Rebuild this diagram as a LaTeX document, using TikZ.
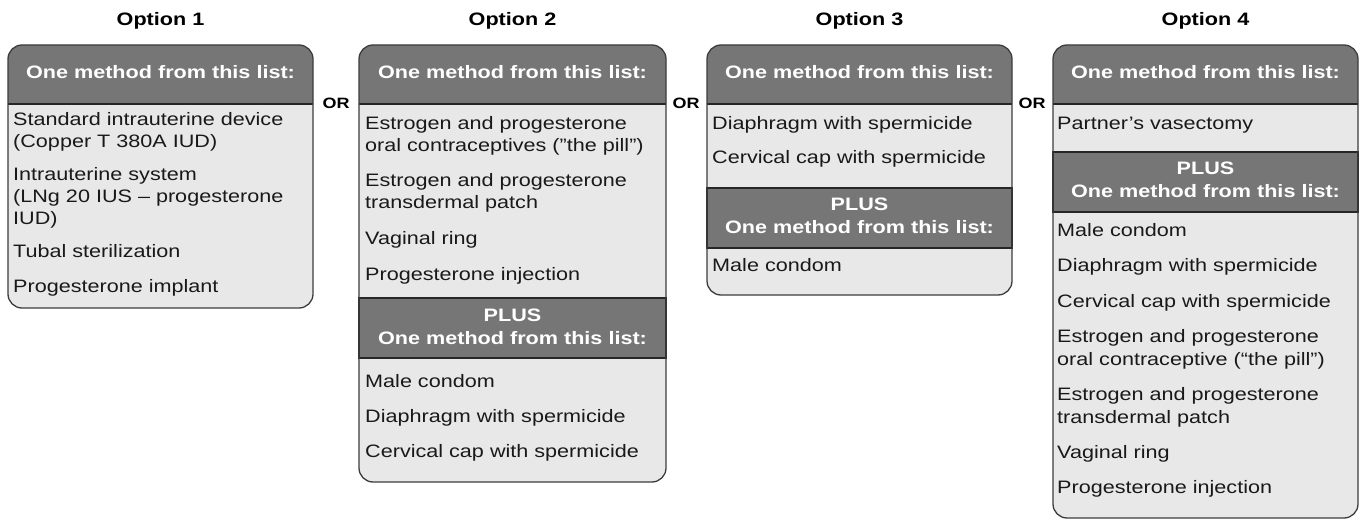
\documentclass[tikz,border=0pt]{standalone}
\usepackage{fontspec}
\setmainfont{Liberation Sans}[FakeStretch=1.2]
\definecolor{hdrgray}{RGB}{118,118,118}
\definecolor{bodygray}{RGB}{232,232,232}
\definecolor{edgegray}{RGB}{60,60,60}
\tikzset{
	item/.style={anchor=base west, inner sep=0pt, font=\fontsize{18}{22}\selectfont, text=black!90},
	hdrtext/.style={anchor=base, inner sep=0pt, font=\fontsize{18}{22}\selectfont\bfseries, text=white},
	title/.style={anchor=base, inner sep=0pt, font=\fontsize{18}{22}\selectfont\bfseries},
	ortext/.style={inner sep=0pt, font=\fontsize{15}{18}\selectfont\bfseries},
	hdrband/.style={fill=hdrgray, draw=black!85, line width=1.2pt},
	boxframe/.style={draw=edgegray, line width=1.3pt, rounded corners=14pt},
}
\begin{document}
\begin{tikzpicture}[x=1pt, y=-1pt]
	\useasboundingbox (0,0) rectangle (1362,521);
	%boxes and top headers
	\foreach \l/\r/\b/\i in {8/313/308/1, 359/666/482/2, 707/1012/295/3, 1053/1358/518/4} {
		\fill[bodygray, rounded corners=14pt] (\l,45) rectangle (\r,\b);
		\fill[hdrgray] (\l,104) [rounded corners=14pt] -- (\l,45) -- (\r,45) [sharp corners] -- (\r,104) -- cycle;
		\draw[black!85, line width=1.2pt] (\l,104) -- (\r,104);
		\node[title] (title\i) at ({(\l+\r)/2},26) {Option \i};
		\node[hdrtext] (head\i) at ({(\l+\r)/2},79) {One method from this list:};
	}
	%plus headers
	\foreach \l/\r/\hy/\i in {359/666/298/2, 707/1012/188/3, 1053/1358/152/4} {
		\draw[hdrband] (\l,\hy) rectangle (\r,\hy+60);
		\node[hdrtext] (plus\i) at ({(\l+\r)/2},\hy+23) {PLUS};
		\node[hdrtext] (plushead\i) at ({(\l+\r)/2},\hy+46) {One method from this list:};
	}
	%frames
	\foreach \l/\r/\b in {8/313/308, 359/666/482, 707/1012/295, 1053/1358/518}
	\draw[boxframe] (\l,45) rectangle (\r,\b);
	%or
	\node[ortext] (or1) at (336,103) {OR};
	\node[ortext] (or2) at (686,103) {OR};
	\node[ortext] (or3) at (1032,103) {OR};
	%option 1
	\foreach \y/\txt [count=\n] in {126/{Standard intrauterine device}, 148/{(Copper T 380A IUD)},
		181/{Intrauterine system}, 203/{(LNg 20 IUS -- progesterone}, 225/{IUD)},
		258/{Tubal sterilization}, 293/{Progesterone implant}}
	\node[item] (opt1-\n) at (13,\y) {\txt};
	%option 2
	\foreach \y/\txt [count=\n] in {130/{Estrogen and progesterone}, 152/{oral contraceptives ("the pill")},
		187/{Estrogen and progesterone}, 209/{transdermal patch}, 245/{Vaginal ring},
		280/{Progesterone injection}, 387/{Male condom}, 422/{Diaphragm with spermicide},
		457/{Cervical cap with spermicide}}
	\node[item] (opt2-\n) at (365,\y) {\txt};
	%option 3
	\foreach \y/\txt [count=\n] in {130/{Diaphragm with spermicide}, 164/{Cervical cap with spermicide},
		272/{Male condom}}
	\node[item] (opt3-\n) at (712,\y) {\txt};
	%option 4
	\foreach \y/\txt [count=\n] in {130/{Partner's vasectomy}, 237/{Male condom},
		272/{Diaphragm with spermicide}, 307/{Cervical cap with spermicide},
		342/{Estrogen and progesterone}, 365/{oral contraceptive (“the pill”)},
		400/{Estrogen and progesterone}, 423/{transdermal patch}, 458/{Vaginal ring},
		493/{Progesterone injection}}
	\node[item] (opt4-\n) at (1057,\y) {\txt};
\end{tikzpicture}
\end{document}
